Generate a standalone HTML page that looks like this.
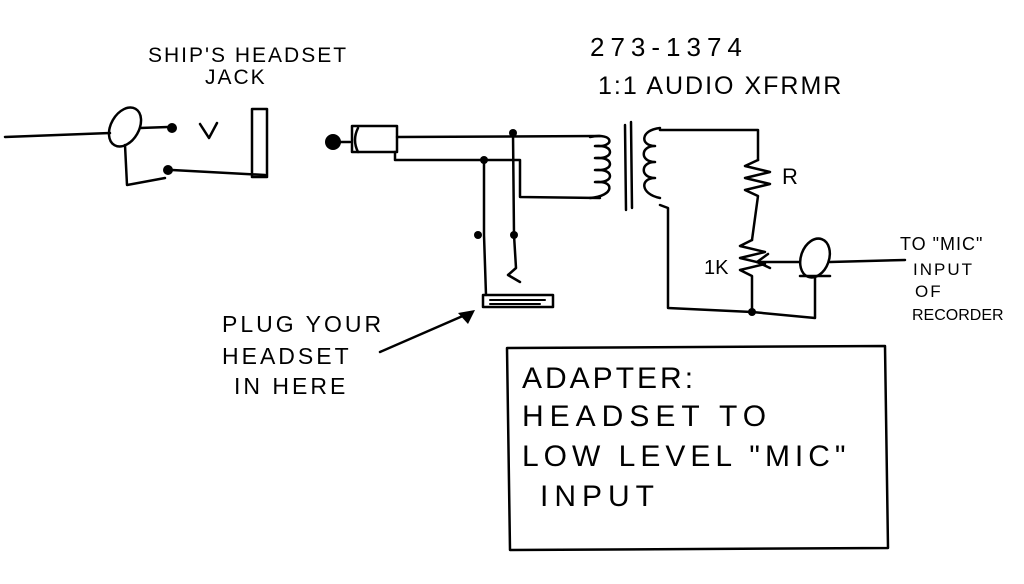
<!DOCTYPE html>
<html><head><style>
html,body{margin:0;padding:0;background:#fff;}
svg{display:block}
text{font-family:"Liberation Sans",sans-serif;fill:#000}
</style></head><body>
<svg width="1024" height="584" viewBox="0 0 1024 584" xmlns="http://www.w3.org/2000/svg">
<g fill="none" stroke="#000" stroke-width="2.5" stroke-linecap="round" stroke-linejoin="round">
<path d="M5 137 L110 133"/>
<ellipse cx="125" cy="127" rx="14" ry="21" transform="rotate(30 125 127)"/>
<path d="M140 128 L168 127"/>
<path d="M200 124 L209 138 L217 123"/>
<path d="M125 145 L127 185 L165 178"/>
<path d="M172 170 L265 175"/>
<rect x="252" y="109" width="15" height="68"/>
<path d="M340 142 L350 142"/>
<rect x="352" y="126" width="45" height="26"/>
<path d="M358 128 Q352 140 358 152"/>
<path d="M397 137 L600 136"/>
<path d="M395 152 L395 160 L520 160 L520 197 L600 198"/>
<path d="M590 137 C615 132 615 148 595 146 C615 144 615 160 595 158 C615 156 615 172 595 170 C615 168 615 184 595 182 C615 180 615 196 590 198"/>
<path d="M625 125 L626 210 M631 122 L632 208"/>
<path d="M660 128 C640 130 640 146 655 146 C640 146 640 162 655 162 C640 162 640 178 655 178 C640 178 640 194 660 198"/>
<path d="M660 130 L758 130 L758 160"/>
<path d="M758 160 L745 166 L770 172 L745 178 L770 184 L745 190 L758 196 L752 240"/>
<path d="M752 240 L740 246 L765 252 L740 258 L765 264 L740 270 L752 276 L752 312"/>
<path d="M660 205 L668 208 L668 308 L752 312 L815 318 L815 278"/>
<path d="M800 262 L757 262 M768 254 L757 262 L770 268"/>
<ellipse cx="815" cy="258" rx="14" ry="20" transform="rotate(20 815 258)"/>
<path d="M800 276 L830 276"/>
<path d="M830 262 L905 260"/>
<path d="M484 160 L484 235 L486 295"/>
<path d="M513 133 L514 235 L516 268 L508 275 L520 282"/>
<rect x="483" y="295" width="70" height="12"/>
<path d="M490 300 L545 300 M490 304 L540 304" stroke-width="2"/>
<path d="M380 352 L465 315"/>
<path d="M507 348 L885 346 L888 548 L510 550 Z"/>
</g>
<g fill="#000">
<circle cx="172" cy="128" r="5"/><circle cx="168" cy="170" r="5"/>
<circle cx="333" cy="142" r="8"/>
<circle cx="513" cy="133" r="4"/><circle cx="484" cy="160" r="4"/>
<circle cx="478" cy="235" r="4"/><circle cx="514" cy="235" r="4"/>
<circle cx="752" cy="312" r="4"/>
<path d="M475 310 L458 313 L468 324 Z"/>
</g>
<g font-size="21">
<text x="148" y="62" style="letter-spacing:2px">SHIP'S HEADSET</text>
<text x="205" y="84" style="letter-spacing:2px">JACK</text>
<text x="590" y="56" style="font-size:26px;letter-spacing:6px">273-1374</text>
<text x="598" y="94" style="font-size:25px;letter-spacing:2px">1:1 AUDIO XFRMR</text>
<text x="782" y="184" font-size="22">R</text>
<text x="704" y="274" font-size="20">1K</text>
<text x="222" y="332" style="font-size:23px;letter-spacing:3px">PLUG YOUR</text>
<text x="222" y="364" style="font-size:23px;letter-spacing:3px">HEADSET</text>
<text x="234" y="394" style="font-size:23px;letter-spacing:3px">IN HERE</text>
<text x="900" y="250" style="font-size:18px;letter-spacing:1px">TO "MIC"</text>
<text x="913" y="275" style="font-size:17px;letter-spacing:2px">INPUT</text>
<text x="915" y="297" style="font-size:17px;letter-spacing:2px">OF</text>
<text x="912" y="320" style="font-size:16px">RECORDER</text>
<text x="522" y="388" style="font-size:30px;letter-spacing:3px">ADAPTER:</text>
<text x="522" y="426" style="font-size:30px;letter-spacing:6px">HEADSET TO</text>
<text x="522" y="466" style="font-size:30px;letter-spacing:5px">LOW LEVEL "MIC"</text>
<text x="540" y="506" style="font-size:30px;letter-spacing:6px">INPUT</text>
</g>
</svg>
</body></html>
